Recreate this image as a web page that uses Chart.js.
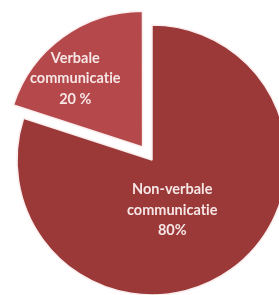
<!DOCTYPE html>
<html>
<head>
<meta charset="utf-8">
<script src="https://cdn.jsdelivr.net/npm/chart.js@4.4.1/dist/chart.umd.min.js"></script>
<style>
html,body{margin:0;padding:0;background:#ffffff;overflow:hidden;width:279px;height:295px;}
#wrap{position:absolute;left:0;top:0;width:304px;height:320px;}
</style>
</head>
<body>
<div id="wrap"><canvas id="c" width="304" height="320"></canvas></div>
<script>
const categories = ["Non-verbale communicatie", "Verbale communicatie"];
const values = [80, 20];
const valueLabels = ["80%", "20 %"];
const labelLines = [["Non-verbale", "communicat\u200Cie"], ["Verbale", "communicat\u200Cie"]];

const sliceColors = ["#9b3838", "#b4484a"];
const labelStyle = [
  {angleAdj: 0.244, frac: 0.40},
  {angleAdj: -0.150, frac: 0.71}
];
const FONT = "bold 14.5px Lato, 'Open Sans', sans-serif";

const labelPlugin = {
  id: 'sliceLabels',
  afterDatasetsDraw(chart) {
    const ctx = chart.ctx;
    const meta = chart.getDatasetMeta(0);
    ctx.save();
    ctx.font = FONT;
    ctx.fillStyle = "#f7e6e6";
    ctx.textAlign = "center";
    ctx.textBaseline = "middle";
    meta.data.forEach((arc, i) => {
      const p = arc.getProps(['x','y','startAngle','endAngle','outerRadius'], true);
      const off = (arc.options.offset || 0) / 4;
      const mid = (p.startAngle + p.endAngle) / 2;
      const ox = p.x + Math.cos(mid) * off;
      const oy = p.y + Math.sin(mid) * off;
      const a = mid + labelStyle[i].angleAdj;
      const d = p.outerRadius * labelStyle[i].frac;
      const cx = ox + Math.cos(a) * d;
      const cy = oy + Math.sin(a) * d;
      const lines = labelLines[i].concat([valueLabels[i]]);
      const lh = 20.5;
      lines.forEach((t, k) => {
        ctx.fillText(t, cx, cy + (k - (lines.length - 1) / 2) * lh);
      });
    });
    ctx.restore();
  }
};

new Chart(document.getElementById('c'), {
  type: 'pie',
  data: {
    labels: categories,
    datasets: [{
      data: values,
      backgroundColor: sliceColors,
      borderColor: "#fbeeee",
      borderWidth: 1.5,
      offset: [0, 64]
    }]
  },
  options: {
    responsive: false,
    animation: false,
    radius: 135,
    layout: {padding: 0},
    plugins: {legend: {display: false}, tooltip: {enabled: false}, title: {display: false}}
  },
  plugins: [labelPlugin]
});
</script>
</body>
</html>
